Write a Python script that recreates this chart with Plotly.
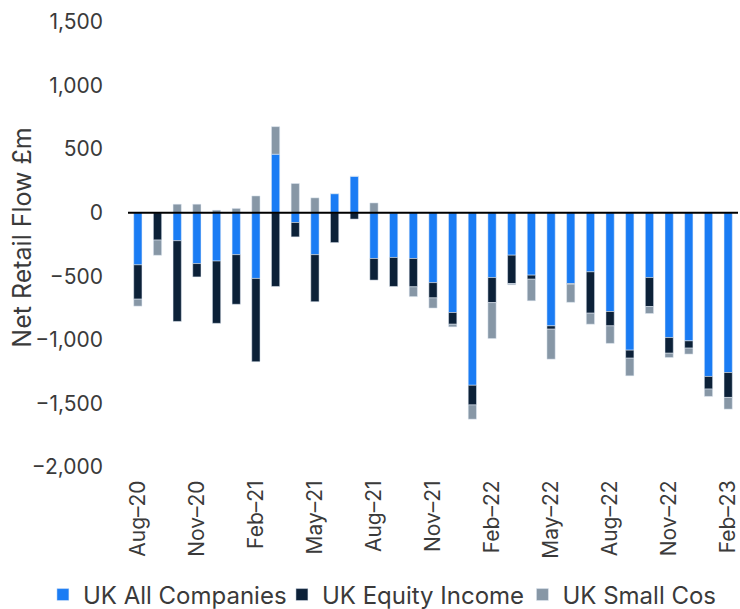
import plotly.graph_objects as go

months = ["Aug–20","Sep–20","Oct–20","Nov–20","Dec–20","Jan–21","Feb–21","Mar–21","Apr–21","May–21",
          "Jun–21","Jul–21","Aug–21","Sep–21","Oct–21","Nov–21","Dec–21","Jan–22","Feb–22","Mar–22",
          "Apr–22","May–22","Jun–22","Jul–22","Aug–22","Sep–22","Oct–22","Nov–22","Dec–22","Jan–23","Feb–23"]

all_companies = [-410, 0, -220, -400, -380, -330, -517, 460, -77, -330,
                 150, 287, -360, -352, -360, -550, -785, -1357, -510, -334,
                 -491, -890, -557, -465, -777, -1081, -510, -982, -1008, -1288, -1257]
equity_income = [-270, -215, -635, -105, -490, -390, -655, -580, -113, -370,
                 -235, -50, -170, -228, -223, -120, -92, -155, -197, -223,
                 -32, -26, -5, -325, -113, -63, -228, -123, -57, -99, -196]
small_cos = [-55, -120, 67, 67, 20, 34, 132, 217, 230, 117,
             0, 0, 77, 0, -77, -80, -21, -112, -283, -10,
             -170, -236, -143, -87, -138, -139, -55, -34, -47, -58, -92]

tick_months = months[::3]
y_ticks = [1500, 1000, 500, 0, -500, -1000, -1500, -2000]

FONT = "Inter"
TXT = "#3a3a3a"

fig = go.Figure()
fig.add_bar(x=months, y=all_companies, name="UK All Companies", marker_color="#1a7cf4", legend="legend")
fig.add_bar(x=months, y=equity_income, name="UK Equity Income", marker_color="#0c2138", legend="legend2")
fig.add_bar(x=months, y=small_cos, name="UK Small Cos", marker_color="#8797a6", legend="legend3")

def leg(xpos):
    return dict(orientation="h", xref="container", yref="container", x=xpos, y=0.023,
                xanchor="left", yanchor="middle", font=dict(size=24, color=TXT),
                bgcolor="rgba(0,0,0,0)", itemwidth=30)

fig.update_layout(
    width=740, height=609,
    barmode="relative", bargap=0.58,
    plot_bgcolor="white", paper_bgcolor="white",
    margin=dict(l=128, r=2, t=22, b=142, autoexpand=False),
    font=dict(family=FONT, size=20, color=TXT),
    showlegend=True,
    legend=leg(0.058), legend2=leg(0.381), legend3=leg(0.706),
    shapes=[dict(type="line", xref="paper", x0=0, x1=1, yref="y", y0=0, y1=0,
                 line=dict(color="black", width=2), layer="above")],
    annotations=[dict(text="Net Retail Flow £m", xref="paper", yref="paper", x=-0.174, y=0.515,
                      xanchor="center", yanchor="middle", textangle=-90, showarrow=False,
                      font=dict(size=25, color=TXT))],
)
fig.update_xaxes(type="category", tickmode="array", tickvals=tick_months, ticktext=tick_months,
                 tickangle=-90, showgrid=False, showline=False, zeroline=False, automargin=False,
                 tickfont=dict(size=21, color=TXT), ticks="outside", ticklen=4, tickcolor="rgba(0,0,0,0)")
fig.update_yaxes(range=[-2000, 1500], tickvals=y_ticks, tickformat=",", showgrid=False,
                 zeroline=False, showline=False, ticks="", automargin=False,
                 tickfont=dict(size=21, color=TXT), ticklabelstandoff=24)

fig.write_html("out.html", config={"responsive": False, "displayModeBar": False},
               post_script="document.body.style.margin='0';document.body.style.padding='0';")
